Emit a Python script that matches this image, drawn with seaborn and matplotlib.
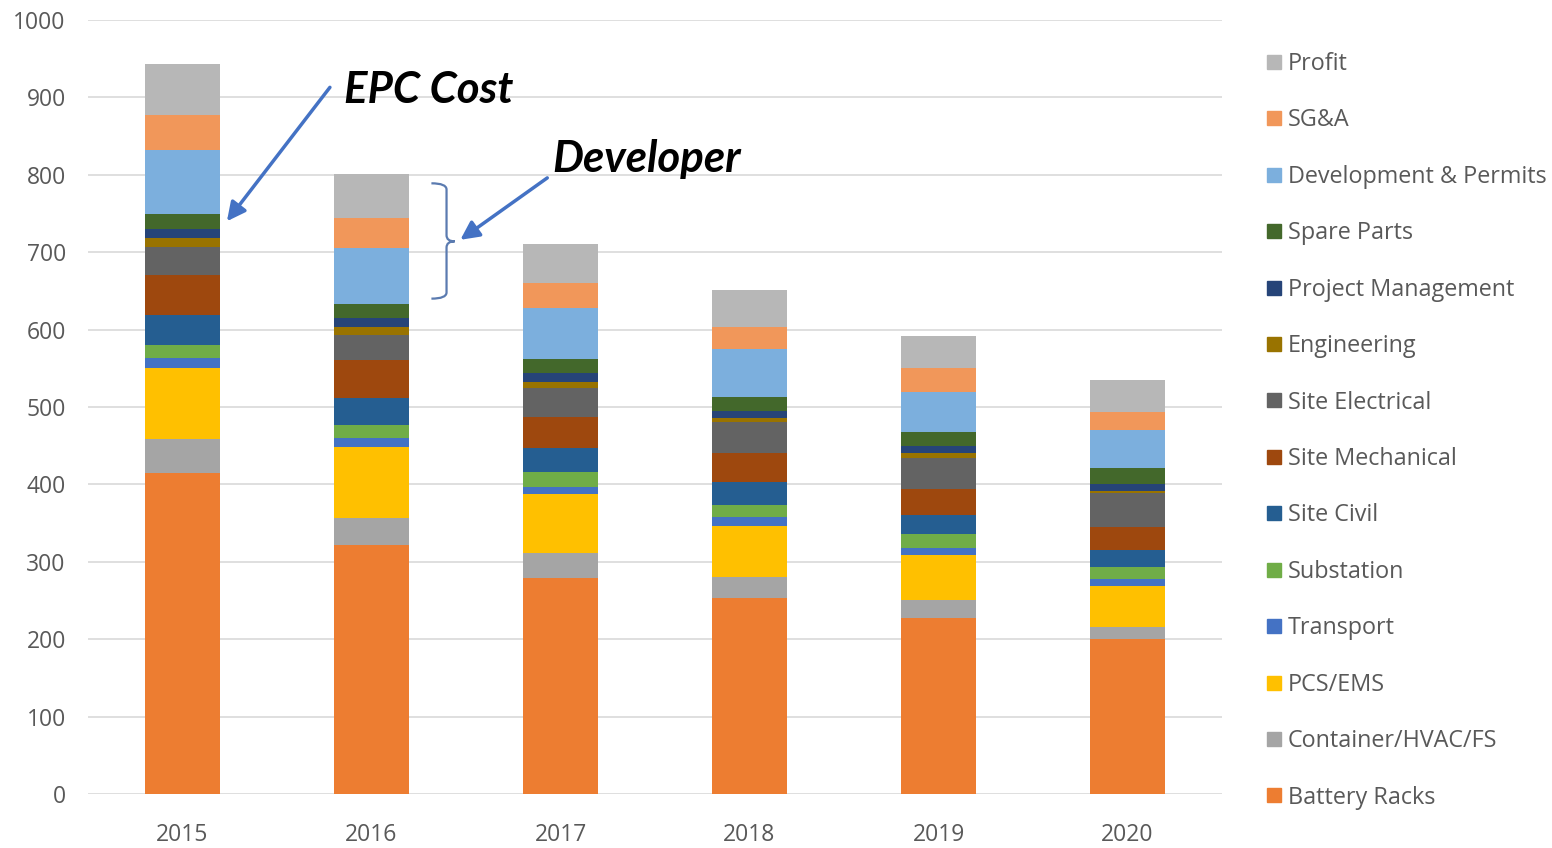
import matplotlib
matplotlib.use("Agg")
import matplotlib.pyplot as plt
from matplotlib.path import Path
from matplotlib.patches import PathPatch
from matplotlib.lines import Line2D
import numpy as np
import pandas as pd
import seaborn as sns

# Cost breakdown per year (stacked from the bottom up)
years = ["2015", "2016", "2017", "2018", "2019", "2020"]
battery_racks = [415, 322, 279, 253, 227, 200]
container_hvac_fs = [44, 35, 32, 27, 24, 16]
pcs_ems = [91, 91, 77, 66, 58, 53]
transport = [13, 12, 9, 12, 9, 9]
substation = [17, 17, 19, 15, 18, 15]
site_civil = [39, 35, 31, 30, 25, 22]
site_mechanical = [51, 49, 40, 38, 33, 30]
site_electrical = [37, 32, 37, 40, 40, 44]
engineering = [11, 10, 8, 5, 6, 2]
project_management = [12, 12, 12, 9, 9, 9]
spare_parts = [19, 18, 18, 18, 19, 21]
development_permits = [83, 72, 66, 62, 52, 49]
sga = [45, 39, 32, 29, 30, 23]
profit = [66, 57, 51, 47, 42, 42]

components = [
    ("Battery Racks", battery_racks, "#ED7D31"),
    ("Container/HVAC/FS", container_hvac_fs, "#A5A5A5"),
    ("PCS/EMS", pcs_ems, "#FFC000"),
    ("Transport", transport, "#4472C4"),
    ("Substation", substation, "#70AD47"),
    ("Site Civil", site_civil, "#255E91"),
    ("Site Mechanical", site_mechanical, "#9E480E"),
    ("Site Electrical", site_electrical, "#636363"),
    ("Engineering", engineering, "#997300"),
    ("Project Management", project_management, "#264478"),
    ("Spare Parts", spare_parts, "#43682B"),
    ("Development & Permits", development_permits, "#7CAFDD"),
    ("SG&A", sga, "#F1975A"),
    ("Profit", profit, "#B7B7B7"),
]

sns.set_theme(style="white")
plt.rcParams["font.family"] = ["Open Sans", "DejaVu Sans"]

W, H = 1552, 848
fig = plt.figure(figsize=(W / 100, H / 100), dpi=100)
ax = fig.add_axes([88 / W, 1 - 794 / H, (1222 - 88) / W, (794 - 20) / H])

# Cumulative totals: draw the tallest stack first, then cover with lower layers
df = pd.DataFrame({name: vals for name, vals, _ in components}, index=years)
cum = df.cumsum(axis=1)
for name, _, color in reversed(components):
    sns.barplot(x=years, y=cum[name].values, color=color, saturation=1,
                width=0.4, errorbar=None, ax=ax, zorder=3, linewidth=0)

ax.set_ylim(0, 1000)
ax.set_xlim(-0.5, 5.5)
ax.set_yticks(np.arange(0, 1001, 100))
ax.yaxis.grid(True, color="#D9D9D9", linewidth=1.2, zorder=0)
ax.xaxis.grid(False)
for s in ax.spines.values():
    s.set_visible(False)
ax.tick_params(axis="both", length=0, labelsize=16.5, labelcolor="#595959")
ax.tick_params(axis="y", pad=16)
ax.tick_params(axis="x", pad=21)
ax.set_xlabel("")
ax.set_ylabel("")

# Legend, top item = top of stack
handles = [Line2D([0], [0], marker="s", linestyle="none", markersize=10,
                  markerfacecolor=c, markeredgecolor=c) for _, _, c in reversed(components)]
labels = [n for n, _, _ in reversed(components)]
leg = fig.legend(handles, labels, loc="upper left", bbox_to_anchor=(1262 / W, 1 - 52 / H),
                 frameon=False, fontsize=16.8, labelspacing=1.39, handletextpad=0.1,
                 handlelength=1.0, borderaxespad=0, borderpad=0)
for t in leg.get_texts():
    t.set_color("#595959")

arrow_color = "#4472C4"
ann_font = dict(fontfamily=["Lato", "DejaVu Sans"], fontweight="bold", fontstyle="italic",
                fontsize=31.5, color="black")

# EPC Cost callout
ax.text(0.857, 910, "EPC Cost", ha="left", va="center", **ann_font)
ax.annotate("", xy=(0.235, 740), xytext=(0.78, 913),
            arrowprops=dict(arrowstyle="-|>", color=arrow_color, lw=2.5, mutation_scale=28,
                            shrinkA=0, shrinkB=0))

# Developer callout with brace around the top three layers of 2016
ax.text(1.958, 820, "Developer", ha="left", va="center", **ann_font)
ax.annotate("", xy=(1.47, 716), xytext=(1.93, 796),
            arrowprops=dict(arrowstyle="-|>", color=arrow_color, lw=2.5, mutation_scale=28,
                            shrinkA=0, shrinkB=0))

top_v, bot_v, mid_v = 789, 640, 714
x0, x1, x2 = 1.317, 1.397, 1.44
verts = [(x0, top_v), (x1, top_v), (x1, top_v - 8),
         (x1, mid_v + 8), (x1, mid_v), (x2, mid_v),
         (x1, mid_v), (x1, mid_v - 8),
         (x1, bot_v + 8), (x1, bot_v), (x0, bot_v)]
codes = [Path.MOVETO, Path.CURVE3, Path.CURVE3,
         Path.LINETO, Path.CURVE3, Path.CURVE3,
         Path.CURVE3, Path.CURVE3,
         Path.LINETO, Path.CURVE3, Path.CURVE3]
ax.add_patch(PathPatch(Path(verts, codes), fill=False, edgecolor="#5B7BB0", lw=1.6, zorder=4))

fig.savefig("out.png", dpi=100, facecolor="white")
